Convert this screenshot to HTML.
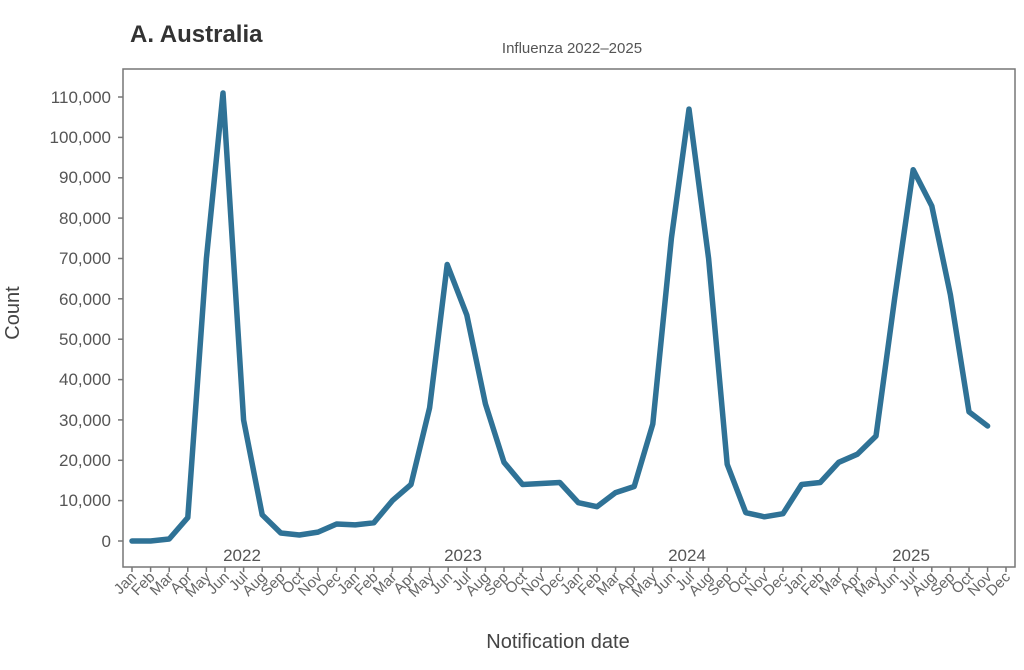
<!DOCTYPE html>
<html><head><meta charset="utf-8"><style>
body{margin:0;background:#fff;}
svg{display:block;font-family:"Liberation Sans","DejaVu Sans",sans-serif;}
</style></head><body>
<svg width="1024" height="670" viewBox="0 0 1024 670">
<text x="130" y="42" font-size="24" font-weight="bold" fill="#333">A. Australia</text>
<text x="572" y="53" font-size="15" fill="#555" text-anchor="middle">Influenza 2022–2025</text>
<rect x="123" y="69" width="892" height="498" fill="none" stroke="#777" stroke-width="1.5"/>
<g font-size="17" fill="#555" text-anchor="end">
<text x="111" y="547">0</text>
<text x="111" y="506">10,000</text>
<text x="111" y="466">20,000</text>
<text x="111" y="426">30,000</text>
<text x="111" y="385">40,000</text>
<text x="111" y="345">50,000</text>
<text x="111" y="305">60,000</text>
<text x="111" y="264">70,000</text>
<text x="111" y="224">80,000</text>
<text x="111" y="183">90,000</text>
<text x="111" y="143">100,000</text>
<text x="111" y="103">110,000</text>
</g>
<g stroke="#777" stroke-width="1.5">
<line x1="118" y1="541" x2="123" y2="541"/><line x1="118" y1="500.6" x2="123" y2="500.6"/><line x1="118" y1="460.3" x2="123" y2="460.3"/><line x1="118" y1="419.9" x2="123" y2="419.9"/><line x1="118" y1="379.6" x2="123" y2="379.6"/><line x1="118" y1="339.2" x2="123" y2="339.2"/><line x1="118" y1="298.8" x2="123" y2="298.8"/><line x1="118" y1="258.5" x2="123" y2="258.5"/><line x1="118" y1="218.1" x2="123" y2="218.1"/><line x1="118" y1="177.8" x2="123" y2="177.8"/><line x1="118" y1="137.4" x2="123" y2="137.4"/><line x1="118" y1="97" x2="123" y2="97"/>
</g>
<path stroke="#777" stroke-width="1.5" d="M132 567v5M150.6 567v5M169.2 567v5M187.8 567v5M206.4 567v5M225 567v5M243.6 567v5M262.2 567v5M280.8 567v5M299.4 567v5M318 567v5M336.6 567v5M355.2 567v5M373.8 567v5M392.4 567v5M411 567v5M429.6 567v5M448.2 567v5M466.8 567v5M485.4 567v5M504 567v5M522.6 567v5M541.2 567v5M559.8 567v5M578.4 567v5M597 567v5M615.6 567v5M634.2 567v5M652.8 567v5M671.4 567v5M690 567v5M708.6 567v5M727.2 567v5M745.8 567v5M764.4 567v5M783 567v5M801.6 567v5M820.2 567v5M838.8 567v5M857.4 567v5M876 567v5M894.6 567v5M913.2 567v5M931.8 567v5M950.4 567v5M969 567v5M987.6 567v5M1006 567v5"/>
<g font-size="17" fill="#555" text-anchor="middle">
<text x="242" y="561">2022</text><text x="463" y="561">2023</text><text x="687" y="561">2024</text><text x="911" y="561">2025</text>
</g>
<polyline fill="none" stroke="#2f7296" stroke-width="5.5" stroke-linejoin="round" stroke-linecap="round" points="132,541 150.6,541 169.2,539 187.8,517.6 206.4,258.5 223,93 243.6,420 262.2,514.8 280.8,533 299.4,535 318,532.1 336.6,524 355.2,524.9 373.8,522.8 392.4,500.6 411,484.5 429.6,407.8 447.2,264.5 466.8,315 485.4,403.8 504,462.3 522.6,484.5 541.2,483.5 559.8,482.5 578.4,502.7 597,506.7 615.6,492.6 634.2,486.5 652.8,424 671.4,238.3 689,109.1 708.6,258.5 727.2,464.3 745.8,512.7 764.4,516.8 783,513.7 801.6,484.5 820.2,482.5 838.8,462.3 857.4,454.2 876,436 894.6,298.8 913.2,169.7 931.8,206 950.4,294.8 969,411.8 987.6,426"/>
<g font-size="15" fill="#666" text-anchor="end">
<text transform="translate(137,578) rotate(-45)">Jan</text><text transform="translate(155.6,578) rotate(-45)">Feb</text><text transform="translate(174.2,578) rotate(-45)">Mar</text><text transform="translate(192.8,578) rotate(-45)">Apr</text><text transform="translate(211.4,578) rotate(-45)">May</text><text transform="translate(230,578) rotate(-45)">Jun</text><text transform="translate(248.6,578) rotate(-45)">Jul</text><text transform="translate(267.2,578) rotate(-45)">Aug</text><text transform="translate(285.8,578) rotate(-45)">Sep</text><text transform="translate(304.4,578) rotate(-45)">Oct</text><text transform="translate(323,578) rotate(-45)">Nov</text><text transform="translate(341.6,578) rotate(-45)">Dec</text>
<text transform="translate(360.2,578) rotate(-45)">Jan</text><text transform="translate(378.8,578) rotate(-45)">Feb</text><text transform="translate(397.4,578) rotate(-45)">Mar</text><text transform="translate(416,578) rotate(-45)">Apr</text><text transform="translate(434.6,578) rotate(-45)">May</text><text transform="translate(453.2,578) rotate(-45)">Jun</text><text transform="translate(471.8,578) rotate(-45)">Jul</text><text transform="translate(490.4,578) rotate(-45)">Aug</text><text transform="translate(509,578) rotate(-45)">Sep</text><text transform="translate(527.6,578) rotate(-45)">Oct</text><text transform="translate(546.2,578) rotate(-45)">Nov</text><text transform="translate(564.8,578) rotate(-45)">Dec</text>
<text transform="translate(583.4,578) rotate(-45)">Jan</text><text transform="translate(602,578) rotate(-45)">Feb</text><text transform="translate(620.6,578) rotate(-45)">Mar</text><text transform="translate(639.2,578) rotate(-45)">Apr</text><text transform="translate(657.8,578) rotate(-45)">May</text><text transform="translate(676.4,578) rotate(-45)">Jun</text><text transform="translate(695,578) rotate(-45)">Jul</text><text transform="translate(713.6,578) rotate(-45)">Aug</text><text transform="translate(732.2,578) rotate(-45)">Sep</text><text transform="translate(750.8,578) rotate(-45)">Oct</text><text transform="translate(769.4,578) rotate(-45)">Nov</text><text transform="translate(788,578) rotate(-45)">Dec</text>
<text transform="translate(806.6,578) rotate(-45)">Jan</text><text transform="translate(825.2,578) rotate(-45)">Feb</text><text transform="translate(843.8,578) rotate(-45)">Mar</text><text transform="translate(862.4,578) rotate(-45)">Apr</text><text transform="translate(881,578) rotate(-45)">May</text><text transform="translate(899.6,578) rotate(-45)">Jun</text><text transform="translate(918.2,578) rotate(-45)">Jul</text><text transform="translate(936.8,578) rotate(-45)">Aug</text><text transform="translate(955.4,578) rotate(-45)">Sep</text><text transform="translate(974,578) rotate(-45)">Oct</text><text transform="translate(992.6,578) rotate(-45)">Nov</text><text transform="translate(1011,578) rotate(-45)">Dec</text>
</g>
<text transform="translate(19,313) rotate(-90)" font-size="20" fill="#444" text-anchor="middle">Count</text>
<text x="558" y="648" font-size="20" fill="#444" text-anchor="middle">Notification date</text>
</svg>
</body></html>
